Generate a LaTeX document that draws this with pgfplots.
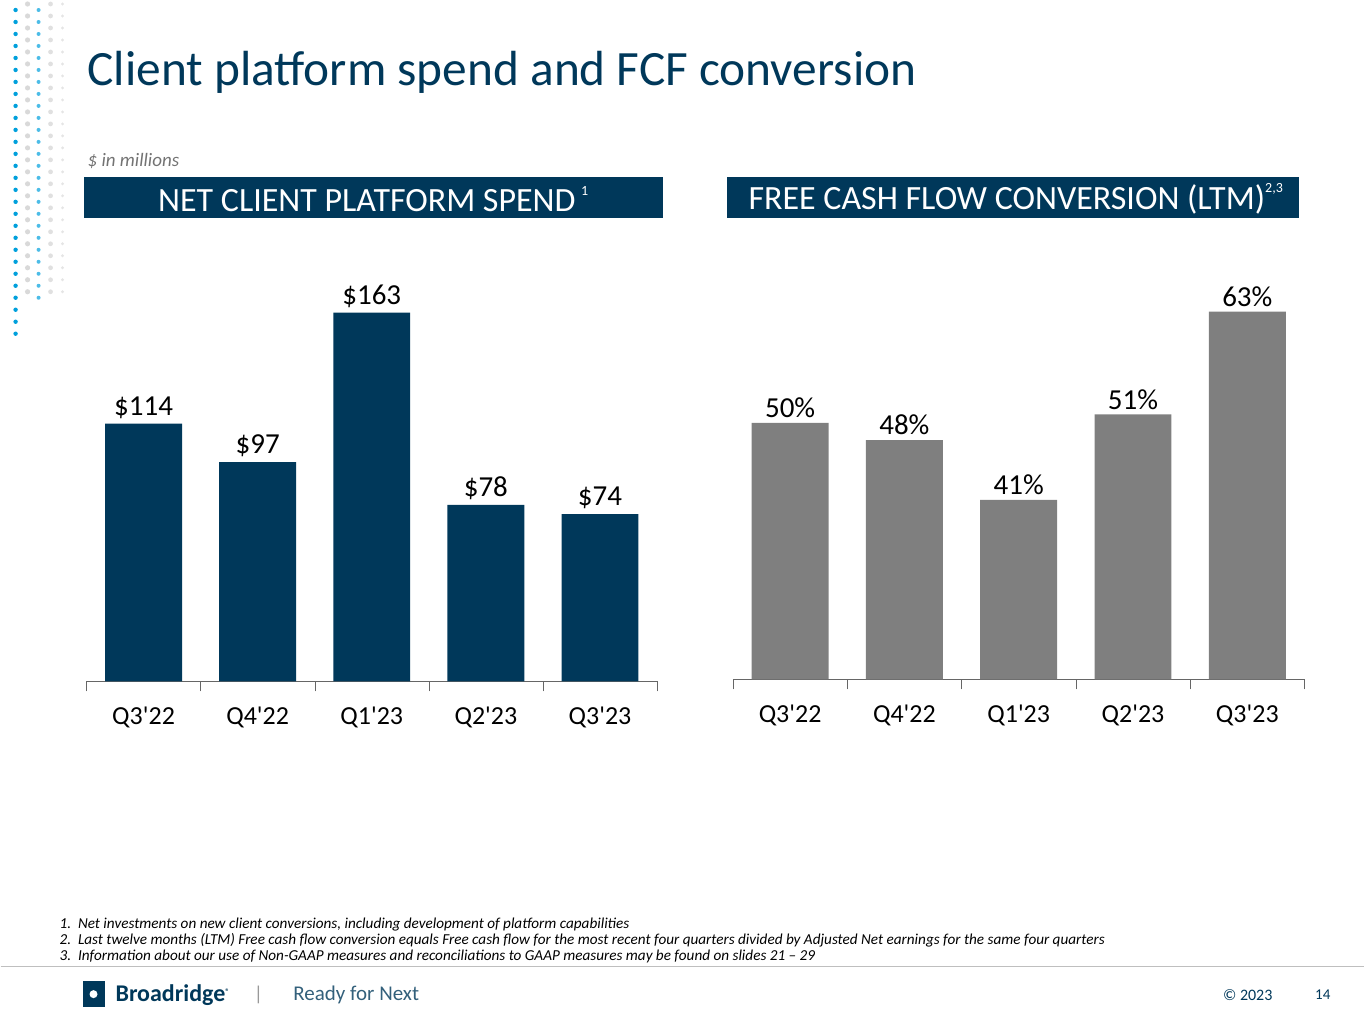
\documentclass[border=0pt]{standalone}
\usepackage{pgfplots}
\pgfplotsset{compat=1.18}
\usepackage{fontspec}
\setmainfont{Carlito}
\definecolor{navy}{RGB}{0,56,90}
\definecolor{bargray}{RGB}{127,127,127}
\definecolor{dotblue}{RGB}{0,160,220}
\newcommand{\q}{\textquotesingle}
\begin{document}
\begin{tikzpicture}
\path (0,0) rectangle (682.5pt,-512pt);
% decorative dots
\foreach \yy in {10,22,...,340} {
  \fill[dotblue] (7.5pt,-\yy*0.5pt) circle (1.1pt);
}
\foreach \yy in {4,16,...,300} {
  \fill[black!15] (13.5pt,-\yy*0.5pt) circle (1.3pt);
  \fill[dotblue!70] (19pt,-\yy*0.5pt-3pt) circle (1.0pt);
  \fill[black!12] (25pt,-\yy*0.5pt) circle (1.2pt);
  \fill[black!10] (31pt,-\yy*0.5pt) circle (0.8pt);
}
% title
\node[anchor=west,text=navy,font=\fontsize{24.7}{28}\selectfont] at (40pt,-36pt) {Client platform spend and FCF conversion};
\node[anchor=west,text=black!55,font=\fontsize{9.5}{10}\itshape] at (40pt,-80.5pt) {\$ in millions};
% header boxes
\fill[navy] (41.5pt,-88.5pt) rectangle (331.5pt,-109pt);
\node[text=white,font=\fontsize{17}{18}\selectfont] at (186.5pt,-99.5pt) {NET CLIENT PLATFORM SPEND\,\raisebox{1ex}{\fontsize{7}{8}\selectfont 1}};
\fill[navy] (363.5pt,-88.5pt) rectangle (650pt,-109pt);
\node[text=white,font=\fontsize{17}{18}\selectfont] at (508pt,-99.5pt) {FREE CASH FLOW CONVERSION (LTM)\raisebox{1ex}{\fontsize{7}{8}\selectfont 2,3}};
\pgfplotsset{every axis/.append style={
  /pgf/number format/assume math mode=true,
  xmin=-0.5,xmax=4.5,
  axis x line*=bottom,axis y line=none,
  ybar,bar width=38.5pt,
  xtick={0,...,4},xticklabels={Q3\q22,Q4\q22,Q1\q23,Q2\q23,Q3\q23},
  major tick length=0pt,
  minor xtick={-0.5,0.5,...,4.5},minor tick length=5pt,
  tick align=outside,
  xticklabel style={font=\fontsize{13}{14}\selectfont,yshift=-9pt},
  nodes near coords style={font=\fontsize{14.5}{15}\selectfont,yshift=-1pt},
  axis line style={black!60},minor tick style={black!60},
  clip=false}}
% left chart
\begin{axis}[at={(43pt,-341pt)},anchor=south west,scale only axis,
  width=285.5pt,height=184.5pt,ymin=0,ymax=163,
  nodes near coords={\$\pgfmathprintnumber{\pgfplotspointmeta}}]
\addplot[fill=navy,draw=none] coordinates {(0,114) (1,97) (2,163) (3,78) (4,74)};
\end{axis}
% right chart
\begin{axis}[at={(366.5pt,-340pt)},anchor=south west,scale only axis,
  width=286pt,height=184pt,ymin=20,ymax=63,
  nodes near coords={\pgfmathprintnumber{\pgfplotspointmeta}\%}]
\addplot[fill=bargray,draw=none] coordinates {(0,50) (1,48) (2,41) (3,51) (4,63)};
\end{axis}
% footnotes
\node[anchor=north west,align=left,font=\fontsize{7.6}{8}\itshape\selectfont] at (26pt,-456pt) {%
1.\ \ Net investments on new client conversions, including development of platform capabilities\\
2.\ \ Last twelve months (LTM) Free cash flow conversion equals Free cash flow for the most recent four quarters divided by Adjusted Net earnings for the same four quarters\\
3.\ \ Information about our use of Non-GAAP measures and reconciliations to GAAP measures may be found on slides 21 -- 29};
\draw[black!25,line width=0.6pt] (0,-483.5pt) -- (682.5pt,-483.5pt);
% footer
\node[anchor=west,text=navy,font=\fontsize{12}{13}\bfseries\selectfont] at (54pt,-498pt) {Broadridge\raisebox{0.6ex}{\fontsize{4}{5}\selectfont\textregistered}};
\fill[navy] (41pt,-491pt) rectangle (52pt,-504pt);
\fill[white] (46.5pt,-497.5pt) circle (2pt);
\node[text=black!40,font=\fontsize{10}{11}\selectfont] at (129pt,-498pt) {|};
\node[anchor=west,text=navy!80,font=\fontsize{10.5}{11}\selectfont] at (143pt,-498pt) {Ready for Next};
\node[anchor=east,text=navy,font=\fontsize{8}{9}\selectfont] at (640pt,-498pt) {\textcopyright\ 2023};
\node[anchor=east,text=navy,font=\fontsize{7.5}{9}\selectfont] at (669pt,-498pt) {14};
\end{tikzpicture}
\end{document}
